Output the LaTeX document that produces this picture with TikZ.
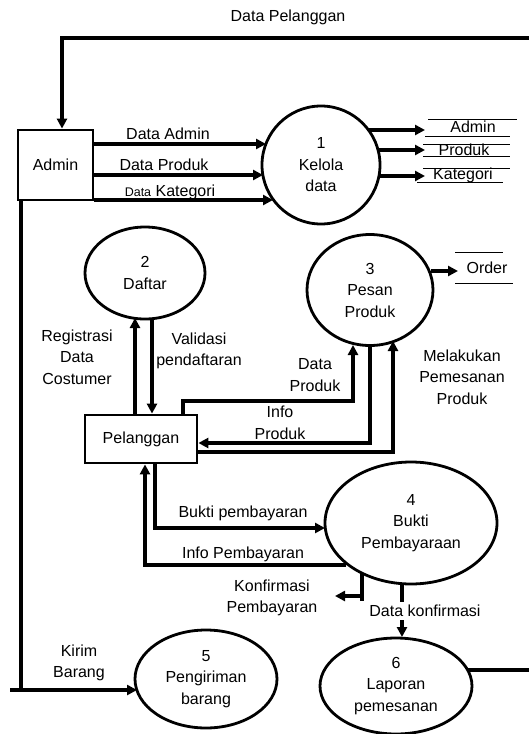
\documentclass[tikz,border=0pt]{standalone}
\usepackage{fontspec}
\setmainfont{Liberation Sans}
\usetikzlibrary{arrows.meta,shapes.geometric}
\newcommand\dfdfs{\fontsize{16}{21.5}\selectfont}
\begin{document}
\begin{tikzpicture}[x=1pt,y=-1pt,
  flow/.style={line width=3.2pt},
  arr/.style={line width=3.2pt,-{Triangle[length=10pt,width=10pt]}},
  proc/.style={ellipse,draw,line width=2.8pt,inner sep=0pt,align=center,font=\dfdfs},
  ent/.style={rectangle,draw,line width=2.8pt,inner sep=0pt,font=\dfdfs},
  lbl/.style={align=center,font=\dfdfs,inner sep=0pt},
  storeline/.style={line width=1pt}]
\useasboundingbox (0,0) rectangle (529,734);

% entities
\node[ent,minimum width=75pt,minimum height=70pt] (admin) at (55.5,165) {Admin};
\node[ent,minimum width=112pt,minimum height=48pt] (pel) at (141,439) {Pelanggan};

% processes
\node[proc,minimum width=118pt,minimum height=118pt] (c1) at (321,165) {1\\Kelola\\data};
\node[proc,minimum width=120pt,minimum height=92pt] (c2) at (145,273) {2\\Daftar};
\node[proc,minimum width=126pt,minimum height=111pt] (c3) at (370,290) {3\\Pesan\\Produk};
\node[proc,minimum width=172pt,minimum height=122pt] (c4) at (411,523) {4\\Bukti\\Pembayaraan};
\node[proc,minimum width=142pt,minimum height=98pt] (c5) at (206,679) {5\\Pengiriman\\barang};
\node[proc,minimum width=152pt,minimum height=96pt] (c6) at (396,686) {6\\Laporan\\pemesanan};

% data stores
\draw[storeline] (428,119) -- (517,119);
\draw[storeline] (425,136) -- (510,136);
\node[lbl] (sAdmin) at (473,127) {Admin};
\draw[storeline] (423,144) -- (510,144);
\draw[storeline] (423,156) -- (510,156);
\node[lbl] (sProduk) at (464,150) {Produk};
\draw[storeline] (423,168) -- (510,168);
\draw[storeline] (417,182) -- (503,182);
\node[lbl] (sKat) at (463,175) {Kategori};
\draw[storeline] (455,252) -- (503,252);
\draw[storeline] (455,283) -- (513,283);
\node[lbl] (sOrder) at (487,268) {Order};

% top loop
\draw[arr] (529,38) -- (62,38) -- (admin.north -| 62,0);
\node[lbl] (tDP) at (288,17) {Data Pelanggan};

% admin -> 1
\draw[arr] (admin.east |- 0,144) -- (266,144);
\draw[arr] (admin.east |- 0,175) -- (263,175);
\draw[arr] (admin.east |- 0,200) -- (273,200);
\node[lbl] (tDA) at (168,134) {Data Admin};
\node[lbl] (tDPr) at (164,165) {Data Produk};
\node[lbl] (tDK) at (170,192) {{\fontsize{12.5}{15}\selectfont Data} Kategori};

% 1 -> stores
\draw[arr] (368,130) -- (425,130);
\draw[arr] (378,150) -- (425,150);
\draw[arr] (379,176) -- (425,176);

% left vertical to 5
\draw[flow] (admin.south -| 21,0) -- (21,690);
\draw[arr] (10,690) -- (137,690);
\node[lbl] (tKB) at (79,663) {Kirim\\Barang};

% pelanggan <-> 2
\draw[arr] (pel.north -| 135,0) -- (135,318);
\draw[arr] (152,318) -- (pel.north -| 152,0);
\node[lbl] (tReg) at (77,357) {Registrasi\\Data\\Costumer};
\node[lbl] (tVal) at (199,351) {Validasi\\pendaftaran};

% pelanggan <-> 3
\draw[arr] (pel.north -| 183,0) -- (183,401) -- (353,401) -- (353,345);
\node[lbl] (tDPr2) at (315,375) {Data\\Produk};
\draw[arr] (370,345) -- (370,443) -- (pel.east |- 0,443);
\node[lbl] (tIP) at (280,423) {Info\\Produk};
\draw[arr] (pel.east |- 0,452) -- (393,452) -- (393,341);
\node[lbl] (tMel) at (462,377) {Melakukan\\Pemesanan\\Produk};
\draw[arr] (431,271) -- (458,271);

% pelanggan <-> 4
\draw[arr] (pel.south -| 155,0) -- (155,528) -- (325,528);
\node[lbl] (tBP) at (243,513) {Bukti pembayaran};
\draw[arr] (346,565) -- (145,565) -- (pel.south -| 145,0);
\node[lbl] (tIPb) at (243,554) {Info Pembayaran};

% konfirmasi
\draw[flow] (362,573) -- (362,601);
\draw[arr] (363.6,596) -- (335,596);
\node[lbl] (tKP) at (272,598) {Konfirmasi\\Pembayaran};

% 4 -> 6
\draw[arr] (402,584) -- (402,637);
\node[lbl,fill=white,inner sep=3pt] (tDKf) at (425,611) {Data konfirmasi};

% 6 -> right
\draw[flow] (468,670) -- (529,670);
\end{tikzpicture}
\end{document}
